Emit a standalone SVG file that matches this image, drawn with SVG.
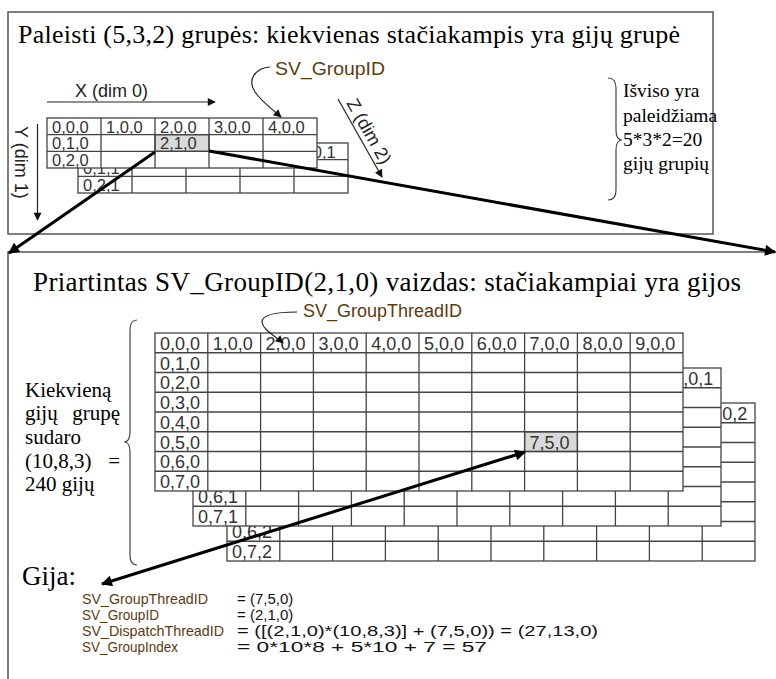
<svg xmlns="http://www.w3.org/2000/svg" width="776" height="679" viewBox="0 0 776 679">
<style>
.frame{fill:#fff;stroke:#555;stroke-width:1.5}
.grid{fill:#fff;stroke:#444;stroke-width:1.3}
.gl{fill:none;stroke:#444;stroke-width:1.3}
.hl{fill:#d9d9d9;stroke:#444;stroke-width:1.3}
.ct{font-family:"Liberation Sans",Arial,sans-serif;font-size:18px;fill:#333}
.ct2{font-family:"Liberation Sans",Arial,sans-serif;font-size:16.5px;fill:#333}
.ser{font-family:"Liberation Serif","Times New Roman",serif;fill:#000}
.ax{font-family:"Liberation Sans",Arial,sans-serif;font-size:18px;fill:#222}
.sv{font-family:"Liberation Sans",Arial,sans-serif;fill:#5c3b0e}
.val{font-family:"Liberation Sans",Arial,sans-serif;fill:#111}
.thin{fill:none;stroke:#222;stroke-width:1.2}
.thick{fill:none;stroke:#000;stroke-width:3}
.brace{fill:none;stroke:#444;stroke-width:1.2}
</style>
<defs>
<marker id="big" viewBox="0 0 10 10" refX="9" refY="5" markerWidth="16" markerHeight="11" markerUnits="userSpaceOnUse" orient="auto-start-reverse"><path d="M0,0 L10,5 L0,10 z" fill="#000"/></marker>
<marker id="sm" viewBox="0 0 10 10" refX="9" refY="5" markerWidth="11" markerHeight="8" markerUnits="userSpaceOnUse" orient="auto"><path d="M0,0 L10,5 L0,10 z" fill="#111"/></marker>
</defs>
<rect width="776" height="679" fill="#fff"/>

<g id="top-box">
<rect class="frame" x="8" y="12" width="705" height="222"/>
<text class="ser" x="18" y="43" font-size="26" textLength="662">Paleisti (5,3,2) grupės: kiekvienas stačiakampis yra gijų grupė</text>
</g>

<g id="bottom-box">
<rect class="frame" x="8" y="252" width="800" height="500"/>
<text class="ser" x="33" y="291" font-size="27" textLength="708">Priartintas SV_GroupID(2,1,0) vaizdas: stačiakampiai yra gijos</text>
</g>

<g id="top-grid">
<g id="top-layer1">
<rect class="grid" x="78" y="143" width="270" height="50"/>
<path class="gl" d="M78,159.67H348M78,176.33H348M132,143V193M186,143V193M240,143V193M294,143V193"/>
<text class="ct2" x="299" y="157.5">4,0,1</text>
<text class="ct2" x="83" y="174.2">0,1,1</text>
<text class="ct2" x="83" y="190.8">0,2,1</text>
</g>
<g id="top-layer0">
<rect class="grid" x="47" y="118" width="270" height="50"/>
<rect class="hl" x="155" y="134.67" width="54" height="16.67"/>
<path class="gl" d="M47,134.67H317M47,151.33H317M101,118V168M155,118V168M209,118V168M263,118V168"/>
<text class="ct2" x="52" y="132.5">0,0,0</text>
<text class="ct2" x="106" y="132.5">1,0,0</text>
<text class="ct2" x="160" y="132.5">2,0,0</text>
<text class="ct2" x="214" y="132.5">3,0,0</text>
<text class="ct2" x="268" y="132.5">4,0,0</text>
<text class="ct2" x="52" y="149.2">0,1,0</text>
<text class="ct2" x="160" y="149.2">2,1,0</text>
<text class="ct2" x="52" y="165.8">0,2,0</text>
</g>
</g>

<g id="axes">
<text class="ax" x="75" y="97">X (dim 0)</text>
<text class="ax" transform="translate(15,126) rotate(90)">Y (dim 1)</text>
<text class="ax" transform="translate(346,103) rotate(60.6)">Z (dim 2)</text>
</g>

<g id="top-note">
<path class="brace" d="M608,78 Q616,78 616,88 L616,130 Q616,140 622,140 Q616,140 616,150 L616,190 Q616,200 608,200"/>
<text class="ser" font-size="19.5"><tspan x="623" y="97">Išviso yra</tspan><tspan x="623" y="122">paleidžiama</tspan><tspan x="623" y="146">5*3*2=20</tspan><tspan x="623" y="170">gijų grupių</tspan></text>
</g>

<g id="label-groupid">
<text class="sv" x="275" y="75" font-size="18" textLength="110" lengthAdjust="spacingAndGlyphs">SV_GroupID</text>
</g>

<g id="bottom-grid">
<g id="layer2">
<rect class="grid" x="227" y="403" width="528" height="158"/>
<path class="gl" d="M227,422.75H755M227,442.5H755M227,462.25H755M227,482H755M227,501.75H755M227,521.5H755M227,541.25H755M279.8,403V561M332.6,403V561M385.4,403V561M438.2,403V561M491,403V561M543.8,403V561M596.6,403V561M649.4,403V561M702.2,403V561"/>
<text class="ct" x="707.2" y="419.75">9,0,2</text>
<text class="ct" x="232" y="538.25">0,6,2</text>
<text class="ct" x="232" y="558">0,7,2</text>
</g>
<g id="layer1">
<rect class="grid" x="193" y="368" width="528" height="158"/>
<path class="gl" d="M193,387.75H721M193,407.5H721M193,427.25H721M193,447H721M193,466.75H721M193,486.5H721M193,506.25H721M245.8,368V526M298.6,368V526M351.4,368V526M404.2,368V526M457,368V526M509.8,368V526M562.6,368V526M615.4,368V526M668.2,368V526"/>
<text class="ct" x="673.2" y="384.75">9,0,1</text>
<text class="ct" x="198" y="503.25">0,6,1</text>
<text class="ct" x="198" y="523">0,7,1</text>
</g>
<g id="layer0">
<rect class="grid" x="155" y="333" width="528" height="158"/>
<rect class="hl" x="524.6" y="431.75" width="52.8" height="19.75"/>
<path class="gl" d="M155,352.75H683M155,372.5H683M155,392.25H683M155,412H683M155,431.75H683M155,451.5H683M155,471.25H683M207.8,333V491M260.6,333V491M313.4,333V491M366.2,333V491M419,333V491M471.8,333V491M524.6,333V491M577.4,333V491M630.2,333V491"/>
<text class="ct" x="160" y="349.75">0,0,0</text>
<text class="ct" x="212.8" y="349.75">1,0,0</text>
<text class="ct" x="265.6" y="349.75">2,0,0</text>
<text class="ct" x="318.4" y="349.75">3,0,0</text>
<text class="ct" x="371.2" y="349.75">4,0,0</text>
<text class="ct" x="424" y="349.75">5,0,0</text>
<text class="ct" x="476.8" y="349.75">6,0,0</text>
<text class="ct" x="529.6" y="349.75">7,0,0</text>
<text class="ct" x="582.4" y="349.75">8,0,0</text>
<text class="ct" x="635.2" y="349.75">9,0,0</text>
<text class="ct" x="160" y="369.5">0,1,0</text>
<text class="ct" x="160" y="389.25">0,2,0</text>
<text class="ct" x="160" y="409">0,3,0</text>
<text class="ct" x="160" y="428.75">0,4,0</text>
<text class="ct" x="160" y="448.5">0,5,0</text>
<text class="ct" x="160" y="468.25">0,6,0</text>
<text class="ct" x="160" y="488">0,7,0</text>
<text class="ct" x="529.6" y="448.5">7,5,0</text>
</g>
</g>

<g id="label-groupthreadid">
<text class="sv" x="303" y="317" font-size="18">SV_GroupThreadID</text>
</g>

<g id="left-note">
<path class="brace" d="M137,320 Q130,320 130,330 L130,432 Q130,442 124,442 Q130,442 130,452 L130,555 Q130,565 137,565"/>
<text class="ser" font-size="21" x="25" y="397">Kiekvieną</text>
<text class="ser" font-size="21" x="25" y="420">gijų</text>
<text class="ser" font-size="21" x="120" y="420" text-anchor="end">grupę</text>
<text class="ser" font-size="21" x="25" y="444">sudaro</text>
<text class="ser" font-size="21" x="25" y="468">(10,8,3)</text>
<text class="ser" font-size="21" x="120" y="468" text-anchor="end">=</text>
<text class="ser" font-size="21" x="25" y="491">240 gijų</text>
</g>

<g id="thread-info">
<text class="ser" x="22" y="585" font-size="27">Gija:</text>
<text class="sv" x="82" y="604" font-size="15" textLength="126" lengthAdjust="spacingAndGlyphs">SV_GroupThreadID</text>
<text class="sv" x="82" y="620" font-size="15" textLength="77" lengthAdjust="spacingAndGlyphs">SV_GroupID</text>
<text class="sv" x="82" y="636" font-size="15" textLength="142" lengthAdjust="spacingAndGlyphs">SV_DispatchThreadID</text>
<text class="sv" x="82" y="652" font-size="15" textLength="96" lengthAdjust="spacingAndGlyphs">SV_GroupIndex</text>
<text class="val" x="237" y="604" font-size="15">= (7,5,0)</text>
<text class="val" x="237" y="620" font-size="15">= (2,1,0)</text>
<text class="val" x="237" y="636" font-size="15.5" textLength="361" lengthAdjust="spacingAndGlyphs">=  ([(2,1,0)*(10,8,3)] + (7,5,0)) = (27,13,0)</text>
<text class="val" x="237" y="652" font-size="15.5" textLength="250" lengthAdjust="spacingAndGlyphs">=   0*10*8 + 5*10 + 7 = 57</text>
</g>

<g id="connectors">
<path class="thin" d="M47,102 H215" marker-end="url(#sm)"/>
<path class="thin" d="M37.5,124 V220" marker-end="url(#sm)"/>
<path class="thin" d="M338,99 L382,177" marker-end="url(#sm)"/>
<path class="thin" d="M270,67 C255,68 247,80 255,92 C262,102 272,109 281,117" marker-end="url(#sm)"/>
<path class="thin" d="M297,312 C280,312 262,314 262,322 C263,330 274,335 283,343" marker-end="url(#sm)"/>
<path class="thick" d="M155,152 L9,253" marker-end="url(#big)"/>
<path class="thick" d="M209,151 L775,252" marker-end="url(#big)"/>
<path class="thick" d="M102,584 L525,452" marker-start="url(#big)" marker-end="url(#big)"/>
</g>
</svg>
